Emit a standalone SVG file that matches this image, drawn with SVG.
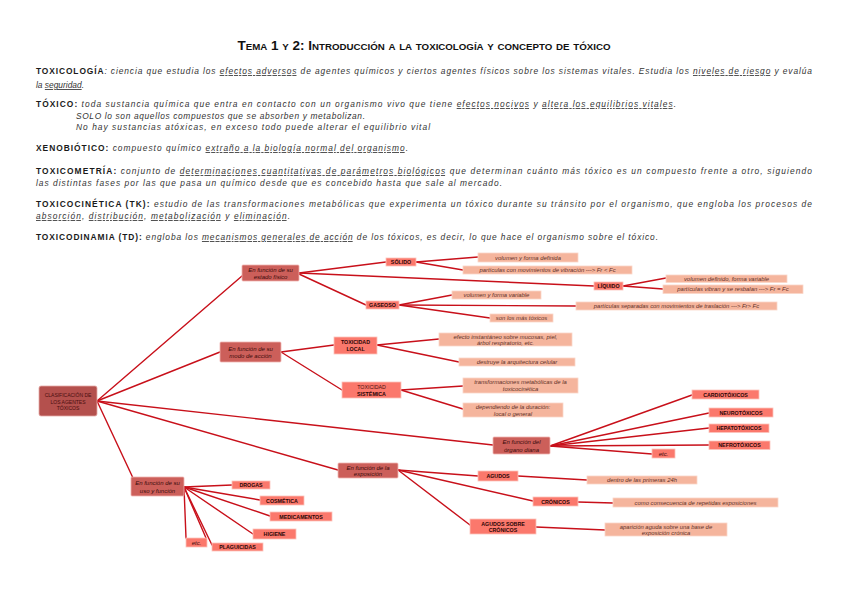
<svg xmlns="http://www.w3.org/2000/svg" width="848" height="599" viewBox="0 0 848 599">
<style>
.bg{fill:#ffffff}
.title{font-family:"Liberation Sans",Arial,sans-serif;font-weight:bold;font-size:12.5px;font-variant:small-caps;fill:#111}
.body{font-family:"Liberation Sans",Arial,sans-serif;font-size:8.4px;font-style:italic;fill:#333}
.lab{font-style:normal;font-weight:bold;fill:#1a1a1a}
.u{text-decoration:underline}
.c{stroke:#c8101a;stroke-width:1.4;fill:none;stroke-linecap:round}
.l0{fill:#b4504d;stroke:#e6aaa6;stroke-width:0.8}
.l1{fill:#cc5f5a;stroke:#f0b4b0;stroke-width:0.8}
.l2{fill:#fb786c;stroke:#fcc4bc;stroke-width:0.8}
.l3{fill:#f5b59d;stroke:#fbd6c8;stroke-width:0.8}
.t0{font-family:"Liberation Sans",Arial,sans-serif;font-size:5px;fill:#4a0f0f;text-anchor:middle}
.t1{font-family:"Liberation Sans",Arial,sans-serif;font-size:6px;font-style:italic;fill:#3a0c0c;text-anchor:middle}
.t2{font-family:"Liberation Sans",Arial,sans-serif;font-size:5.3px;font-weight:bold;fill:#2a0505;text-anchor:middle}
.t2n{font-family:"Liberation Sans",Arial,sans-serif;font-size:5.3px;fill:#4a1010;text-anchor:middle}
.t3{font-family:"Liberation Sans",Arial,sans-serif;font-size:5.9px;font-style:italic;fill:#5e3028;text-anchor:middle}
</style>
<rect class="bg" x="0" y="0" width="848" height="599"/>

<text class="title" x="424" y="50" text-anchor="middle" textLength="373" lengthAdjust="spacingAndGlyphs">Tema 1 y 2: Introducción a la toxicología y concepto de tóxico</text>

<g id="definitions">
<text class="body" x="36" y="74" textLength="776" lengthAdjust="spacing"><tspan class="lab">TOXICOLOGÍA</tspan>: ciencia que estudia los <tspan class="u">efectos adversos</tspan> de agentes químicos y ciertos agentes físicos sobre los sistemas vitales. Estudia los <tspan class="u">niveles de riesgo</tspan> y evalúa</text>
<text class="body" x="36" y="88">la <tspan class="u">seguridad</tspan>.</text>
<text class="body" x="36" y="107" textLength="640" lengthAdjust="spacing"><tspan class="lab">TÓXICO:</tspan> toda sustancia química que entra en contacto con un organismo vivo que tiene <tspan class="u">efectos nocivos</tspan> y <tspan class="u">altera los equilibrios vitales</tspan>.</text>
<text class="body" x="76" y="119" textLength="289" lengthAdjust="spacing">SOLO lo son aquellos compuestos que se absorben y metabolizan.</text>
<text class="body" x="76" y="130" textLength="354" lengthAdjust="spacing">No hay sustancias atóxicas, en exceso todo puede alterar el equilibrio vital</text>
<text class="body" x="36" y="151" textLength="372" lengthAdjust="spacing"><tspan class="lab">XENOBIÓTICO:</tspan> compuesto químico <tspan class="u">extraño a la biología normal del organismo</tspan>.</text>
<text class="body" x="36" y="174" textLength="776" lengthAdjust="spacing"><tspan class="lab">TOXICOMETRÍA:</tspan> conjunto de <tspan class="u">determinaciones cuantitativas de parámetros biológicos</tspan> que determinan cuánto más tóxico es un compuesto frente a otro, siguiendo</text>
<text class="body" x="36" y="186" textLength="466" lengthAdjust="spacing">las distintas fases por las que pasa un químico desde que es concebido hasta que sale al mercado.</text>
<text class="body" x="36" y="207" textLength="776" lengthAdjust="spacing"><tspan class="lab">TOXICOCINÉTICA (TK):</tspan> estudio de las transformaciones metabólicas que experimenta un tóxico durante su tránsito por el organismo, que engloba los procesos de</text>
<text class="body" x="36" y="219" textLength="254" lengthAdjust="spacing"><tspan class="u">absorción</tspan>, <tspan class="u">distribución</tspan>, <tspan class="u">metabolización</tspan> y <tspan class="u">eliminación</tspan>.</text>
<text class="body" x="36" y="240" textLength="622" lengthAdjust="spacing"><tspan class="lab">TOXICODINAMIA (TD):</tspan> engloba los <tspan class="u">mecanismos generales de acción</tspan> de los tóxicos, es decir, lo que hace el organismo sobre el tóxico.</text>
</g>

<g id="connectors">
<line class="c" x1="97" y1="401" x2="242" y2="276"/>
<line class="c" x1="97" y1="401" x2="220" y2="352"/>
<line class="c" x1="97" y1="401" x2="493" y2="445"/>
<line class="c" x1="97" y1="401" x2="338" y2="470"/>
<line class="c" x1="97" y1="401" x2="133" y2="478"/>
<line class="c" x1="299" y1="273" x2="386" y2="262"/>
<line class="c" x1="299" y1="273" x2="594" y2="286"/>
<line class="c" x1="299" y1="274" x2="366" y2="305"/>
<line class="c" x1="416" y1="262" x2="478" y2="257"/>
<line class="c" x1="416" y1="262" x2="463" y2="270"/>
<line class="c" x1="623" y1="286" x2="666" y2="278"/>
<line class="c" x1="623" y1="286" x2="663" y2="289"/>
<line class="c" x1="399" y1="305" x2="452" y2="295"/>
<line class="c" x1="399" y1="305" x2="576" y2="306"/>
<line class="c" x1="399" y1="305" x2="490" y2="318"/>
<line class="c" x1="281" y1="352" x2="334" y2="345"/>
<line class="c" x1="281" y1="352" x2="342" y2="390"/>
<line class="c" x1="377" y1="345" x2="439" y2="339"/>
<line class="c" x1="377" y1="345" x2="459" y2="362"/>
<line class="c" x1="401" y1="390" x2="463" y2="386"/>
<line class="c" x1="401" y1="390" x2="463" y2="409"/>
<line class="c" x1="550" y1="446" x2="692" y2="395"/>
<line class="c" x1="550" y1="446" x2="709" y2="413"/>
<line class="c" x1="550" y1="446" x2="709" y2="428"/>
<line class="c" x1="550" y1="446" x2="709" y2="445"/>
<line class="c" x1="550" y1="446" x2="652" y2="454"/>
<line class="c" x1="398" y1="470" x2="478" y2="476"/>
<line class="c" x1="398" y1="470" x2="533" y2="501"/>
<line class="c" x1="398" y1="470" x2="470" y2="525"/>
<line class="c" x1="518" y1="476" x2="587" y2="480"/>
<line class="c" x1="578" y1="502" x2="613" y2="503"/>
<line class="c" x1="536" y1="527" x2="605" y2="530"/>
<line class="c" x1="184" y1="487" x2="232" y2="485"/>
<line class="c" x1="184" y1="487" x2="260" y2="500"/>
<line class="c" x1="184" y1="487" x2="270" y2="516"/>
<line class="c" x1="184" y1="487" x2="253" y2="534"/>
<line class="c" x1="184" y1="487" x2="212" y2="545"/>
<line class="c" x1="184" y1="487" x2="206" y2="538"/>
<line class="c" x1="184" y1="487" x2="186" y2="538"/>
</g>

<g id="root"><rect class="l0" x="39" y="386" width="58" height="30" rx="2"/><text class="t0" x="68" y="397">CLASIFICACIÓN DE</text><text class="t0" x="68" y="403.5">LOS AGENTES</text><text class="t0" x="68" y="410">TÓXICOS</text></g>

<g id="estado-fisico"><rect class="l1" x="242" y="265" width="57" height="16" rx="1"/><text class="t1" x="270.5" y="272">En función de su</text><text class="t1" x="270.5" y="279">estado físico</text></g>
<g id="modo-accion"><rect class="l1" x="220" y="342" width="61" height="20" rx="1"/><text class="t1" x="250.5" y="350.5">En función de su</text><text class="t1" x="250.5" y="358">modo de acción</text></g>
<g id="organo-diana"><rect class="l1" x="493" y="437" width="57" height="17" rx="1"/><text class="t1" x="521.5" y="444">En función del</text><text class="t1" x="521.5" y="451.5">órgano diana</text></g>
<g id="exposicion"><rect class="l1" x="338" y="463" width="60" height="15" rx="1"/><text class="t1" x="368" y="469.5">En función de la</text><text class="t1" x="368" y="476">exposición</text></g>
<g id="uso-funcion"><rect class="l1" x="131" y="477" width="53" height="19" rx="1"/><text class="t1" x="157.5" y="485">En función de su</text><text class="t1" x="157.5" y="492.5">uso y función</text></g>

<g id="solido"><rect class="l2" x="386" y="258" width="30" height="8"/><text class="t2" x="401" y="264">SÓLIDO</text></g>
<g id="gaseoso"><rect class="l2" x="366" y="301" width="33" height="8"/><text class="t2" x="382.5" y="307">GASEOSO</text></g>
<g id="liquido"><rect class="l2" x="594" y="282" width="29" height="8"/><text class="t2" x="608.5" y="288">LÍQUIDO</text></g>
<g id="tox-local"><rect class="l2" x="334" y="337" width="43" height="17"/><text class="t2" x="355.5" y="344">TOXICIDAD</text><text class="t2" x="355.5" y="351">LOCAL</text></g>
<g id="tox-sistemica"><rect class="l2" x="342" y="382" width="59" height="16"/><text class="t2n" x="371.5" y="388.5">TOXICIDAD</text><text class="t2" x="371.5" y="395.5">SISTÉMICA</text></g>
<g id="cardio"><rect class="l2" x="692" y="390" width="67" height="9"/><text class="t2" x="725.5" y="396.5">CARDIOTÓXICOS</text></g>
<g id="neuro"><rect class="l2" x="709" y="408" width="64" height="9"/><text class="t2" x="741" y="414.5">NEUROTÓXICOS</text></g>
<g id="hepato"><rect class="l2" x="709" y="424" width="60" height="8.5"/><text class="t2" x="739" y="430.3">HEPATOTÓXICOS</text></g>
<g id="nefro"><rect class="l2" x="709" y="441" width="61" height="8.5"/><text class="t2" x="739.5" y="447.3">NEFROTÓXICOS</text></g>
<g id="etc-organo"><rect class="l2" x="652" y="449" width="23" height="9"/><text class="t1" x="663.5" y="455.5">etc.</text></g>
<g id="agudos"><rect class="l2" x="478" y="471" width="40" height="10"/><text class="t2" x="498" y="478">AGUDOS</text></g>
<g id="cronicos"><rect class="l2" x="533" y="497" width="45" height="9"/><text class="t2" x="555.5" y="503.5">CRÓNICOS</text></g>
<g id="agudos-sobre-cronicos"><rect class="l2" x="470" y="519" width="66" height="15"/><text class="t2" x="503" y="525.5">AGUDOS SOBRE</text><text class="t2" x="503" y="532">CRÓNICOS</text></g>
<g id="drogas"><rect class="l2" x="232" y="481" width="38" height="8"/><text class="t2" x="251" y="487">DROGAS</text></g>
<g id="cosmetica"><rect class="l2" x="260" y="496" width="44" height="9"/><text class="t2" x="282" y="502.5">COSMÉTICA</text></g>
<g id="medicamentos"><rect class="l2" x="270" y="512" width="62" height="9"/><text class="t2" x="301" y="518.5">MEDICAMENTOS</text></g>
<g id="higiene"><rect class="l2" x="253" y="529" width="43" height="10"/><text class="t2" x="274.5" y="536">HIGIENE</text></g>
<g id="plaguicidas"><rect class="l2" x="212" y="543" width="51" height="8"/><text class="t2" x="237.5" y="549">PLAGUICIDAS</text></g>
<g id="etc-uso"><rect class="l2" x="186" y="538" width="21" height="9"/><text class="t1" x="196.5" y="544.5">etc.</text></g>

<g id="leaf-solido-1"><rect class="l3" x="478" y="253" width="100" height="9"/><text class="t3" x="528" y="259.5">volumen y forma definida</text></g>
<g id="leaf-solido-2"><rect class="l3" x="463" y="266" width="169" height="8"/><text class="t3" x="547.5" y="272">partículas con movimientos de vibración ---&gt; Fr &lt; Fc</text></g>
<g id="leaf-liquido-1"><rect class="l3" x="666" y="275" width="121" height="7.5"/><text class="t3" x="726.5" y="280.8">volumen definido, forma variable</text></g>
<g id="leaf-liquido-2"><rect class="l3" x="663" y="285" width="140" height="8.5"/><text class="t3" x="733" y="291.3">partículas vibran y se resbalan ---&gt; Fr = Fc</text></g>
<g id="leaf-gas-1"><rect class="l3" x="452" y="291" width="89" height="8"/><text class="t3" x="496.5" y="297">volumen y forma variable</text></g>
<g id="leaf-gas-2"><rect class="l3" x="576" y="302" width="201" height="8"/><text class="t3" x="676.5" y="308">partículas separadas con movimientos de traslación ---&gt; Fr&gt; Fc</text></g>
<g id="leaf-gas-3"><rect class="l3" x="490" y="314" width="63" height="8"/><text class="t3" x="521.5" y="320">son los más tóxicos</text></g>
<g id="leaf-local-1"><rect class="l3" x="439" y="333" width="133" height="13"/><text class="t3" x="505.5" y="338.5">efecto instantáneo sobre mucosas, piel,</text><text class="t3" x="505.5" y="344.5">árbol respiratorio, etc.</text></g>
<g id="leaf-local-2"><rect class="l3" x="459" y="358" width="116" height="8"/><text class="t3" x="517" y="364">destruye la arquitectura celular</text></g>
<g id="leaf-sist-1"><rect class="l3" x="463" y="378" width="115" height="15"/><text class="t3" x="520.5" y="384">transformaciones metabólicas de la</text><text class="t3" x="520.5" y="390.5">toxicocinética</text></g>
<g id="leaf-sist-2"><rect class="l3" x="463" y="403" width="100" height="14"/><text class="t3" x="513" y="409">dependiendo de la duración:</text><text class="t3" x="513" y="415.5">local o general</text></g>
<g id="leaf-agudos"><rect class="l3" x="587" y="476" width="110" height="8"/><text class="t3" x="642" y="482">dentro de las primeras 24h</text></g>
<g id="leaf-cronicos"><rect class="l3" x="613" y="498" width="165" height="9"/><text class="t3" x="695.5" y="504.5">como consecuencia de repetidas exposiciones</text></g>
<g id="leaf-agudos-sobre"><rect class="l3" x="605" y="523" width="122" height="13"/><text class="t3" x="666" y="528.5">aparición aguda sobre una base de</text><text class="t3" x="666" y="534.5">exposición crónica</text></g>
</svg>
